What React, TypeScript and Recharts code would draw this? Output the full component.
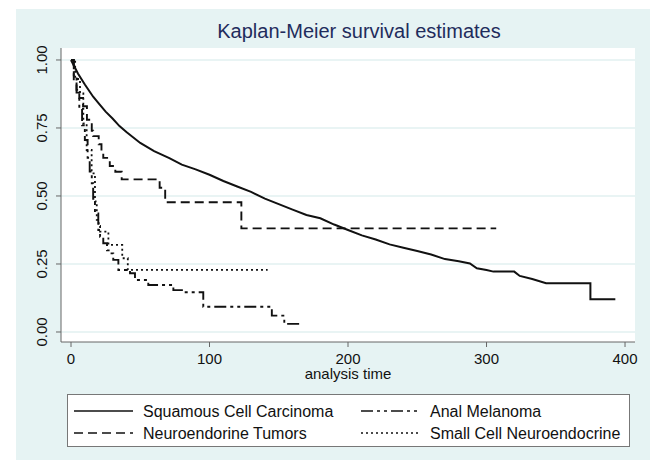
import { CartesianGrid, Line, LineChart, XAxis, YAxis } from 'recharts';

// Squamous Cell Carcinoma (solid)
const SCC_TIME = [0, 5, 10, 16, 20, 25, 30, 35, 40, 50, 60, 71, 80, 90, 100, 110, 120, 130, 140, 150, 160, 170, 180, 190, 200, 210, 220, 230, 240, 250, 260, 270, 280, 288, 293, 300, 305, 320, 324, 333, 343, 375, 375, 393];
const SCC_SURV = [1, 0.95, 0.91, 0.865, 0.84, 0.81, 0.785, 0.757, 0.735, 0.695, 0.665, 0.639, 0.615, 0.598, 0.578, 0.555, 0.535, 0.515, 0.49, 0.47, 0.45, 0.43, 0.418, 0.395, 0.375, 0.355, 0.34, 0.322, 0.31, 0.298, 0.285, 0.268, 0.26, 0.252, 0.234, 0.228, 0.222, 0.222, 0.206, 0.195, 0.179, 0.179, 0.12, 0.12];

// Neuroendorine Tumors (dashed)
const NET_TIME = [0, 2, 4, 6, 8.7, 11.5, 15, 16, 20, 22, 23.3, 28, 32, 36.6, 64, 68, 123, 307];
const NET_SURV = [1, 0.92, 0.89, 0.86, 0.83, 0.78, 0.74, 0.72, 0.69, 0.665, 0.64, 0.61, 0.589, 0.561, 0.53, 0.477, 0.381, 0.381];

// Anal Melanoma (dash-dot)
const AM_TIME = [0, 2, 4, 6, 8, 10, 12, 13.5, 15, 16, 17.3, 19.7, 21, 23.3, 26, 28.2, 30.5, 34.2, 42.6, 46.2, 55.8, 73.9, 81, 95.5, 145, 154, 165];
const AM_SURV = [1, 0.94, 0.88, 0.82, 0.76, 0.706, 0.64, 0.59, 0.547, 0.49, 0.436, 0.375, 0.35, 0.326, 0.3, 0.289, 0.265, 0.228, 0.216, 0.191, 0.173, 0.154, 0.146, 0.093, 0.06, 0.03, 0.03];

// Small Cell Neuroendocrine (dotted)
const SC_TIME = [0, 3, 6.5, 8.9, 11.3, 14.9, 17.3, 18.6, 20, 21, 27, 37, 41, 142];
const SC_SURV = [1, 0.93, 0.877, 0.767, 0.669, 0.583, 0.48, 0.412, 0.39, 0.369, 0.32, 0.271, 0.228, 0.228];

const X_TICKS = [0, 100, 200, 300, 400];
const Y_TICKS = [0, 0.25, 0.5, 0.75, 1];

const toRows = (time: number[], surv: number[]) => time.map((t, i) => ({ t, s: surv[i] }));

const FONT = '"Liberation Sans", Arial, sans-serif';
const INK = '#111';

const SERIES = [
  { name: 'Squamous Cell Carcinoma', data: toRows(SCC_TIME, SCC_SURV), dash: undefined, type: 'linear' as const, width: 2 },
  { name: 'Neuroendorine Tumors', data: toRows(NET_TIME, NET_SURV), dash: '9 5', type: 'stepAfter' as const, width: 1.9 },
  { name: 'Anal Melanoma', data: toRows(AM_TIME, AM_SURV), dash: '12 4 3 4 3 4', type: 'stepAfter' as const, width: 1.9 },
  { name: 'Small Cell Neuroendocrine', data: toRows(SC_TIME, SC_SURV), dash: '2 3', type: 'stepAfter' as const, width: 1.8 },
];

// legend order: row by row, left column then right column
const LEGEND_ORDER = [0, 2, 1, 3];

const YTick = (props: any) => {
  const { x, y, payload } = props;
  const cx = x - 12;
  return (
    <text
      x={cx}
      y={y}
      transform={`rotate(-90, ${cx}, ${y})`}
      textAnchor="middle"
      dominantBaseline="central"
      fontSize={15}
      fontFamily={FONT}
      fill={INK}
    >
      {payload.value.toFixed(2)}
    </text>
  );
};

function LegendBox() {
  return (
    <div
      style={{
        position: 'absolute',
        left: 67,
        top: 394,
        width: 561,
        height: 51,
        background: '#fff',
        border: '1px solid #777',
      }}
    >
      <svg width={561} height={51} style={{ display: 'block' }}>
        {LEGEND_ORDER.map((idx, i) => {
          const s = SERIES[idx];
          const col = i % 2;
          const row = Math.floor(i / 2);
          const x0 = col === 0 ? 6 : 293;
          const y = row === 0 ? 16 : 38;
          return (
            <g key={s.name}>
              <line x1={x0} x2={x0 + 59} y1={y} y2={y} stroke={INK} strokeWidth={1.6} strokeDasharray={s.dash} />
              <text x={x0 + 69} y={y} dominantBaseline="central" fontSize={16} fontFamily={FONT} fill={INK}>
                {s.name}
              </text>
            </g>
          );
        })}
      </svg>
    </div>
  );
}

export default function App() {
  return (
    <div style={{ position: 'absolute', left: 0, top: 0, width: 650, height: 460, background: '#fff' }}>
      <div style={{ position: 'absolute', left: 16, top: 9, right: 0, bottom: 0, background: '#e6f3f3' }} />
      <div
        style={{
          position: 'absolute',
          left: 16,
          right: 0,
          top: 20,
          textAlign: 'center',
          fontFamily: FONT,
          fontSize: 20,
          color: '#1f2c5c',
          paddingLeft: 52,
          boxSizing: 'border-box',
        }}
      >
        Kaplan-Meier survival estimates
      </div>
      <div style={{ position: 'absolute', left: 0, top: 0 }}>
        <LineChart width={650} height={460} margin={{ top: 48, right: 15, left: 14, bottom: 78 }}>
          <CartesianGrid vertical={false} fill="#fff" stroke="#e2f0f1" strokeWidth={1.5} horizontalValues={Y_TICKS} />
          <XAxis
            type="number"
            dataKey="t"
            domain={[-7.22, 407.2]}
            ticks={X_TICKS}
            allowDataOverflow
            height={40}
            stroke="#666"
            tickSize={5}
            tickMargin={6}
            tick={{ fontSize: 15, fontFamily: FONT, fill: INK }}
            label={{ value: 'analysis time', position: 'insideBottom', offset: 3, fontSize: 15, fontFamily: FONT, fill: INK }}
          />
          <YAxis
            type="number"
            dataKey="s"
            domain={[-0.0368, 1.044]}
            ticks={Y_TICKS}
            allowDataOverflow
            width={47}
            stroke="#666"
            tickSize={5}
            tick={<YTick />}
          />
          {SERIES.map((s) => (
            <Line
              key={s.name}
              data={s.data}
              dataKey="s"
              type={s.type}
              stroke={INK}
              strokeWidth={s.width}
              strokeDasharray={s.dash}
              dot={false}
              activeDot={false}
              isAnimationActive={false}
            />
          ))}
        </LineChart>
      </div>
      <LegendBox />
    </div>
  );
}
